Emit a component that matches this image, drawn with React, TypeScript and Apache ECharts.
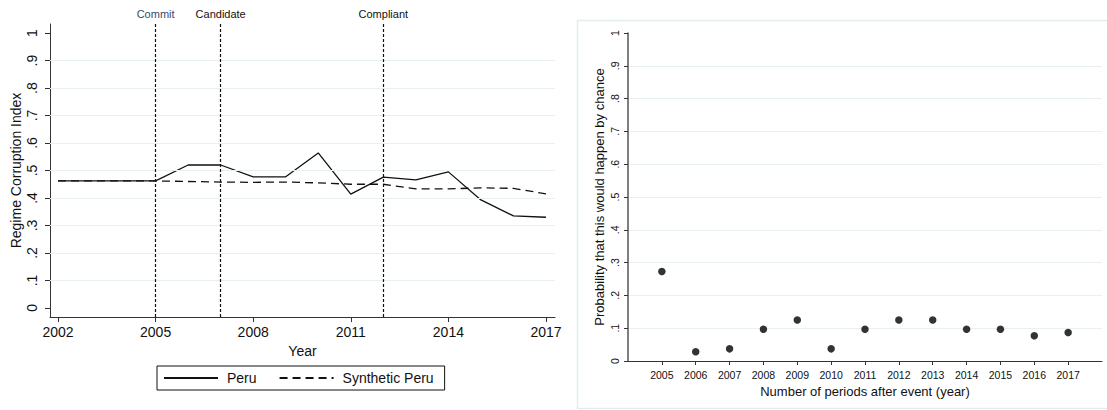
import React, { useEffect, useRef } from "react";
import * as echarts from "echarts";

// Left panel: Peru vs synthetic Peru, regime corruption index
const years = [2002, 2003, 2004, 2005, 2006, 2007, 2008, 2009, 2010, 2011, 2012, 2013, 2014, 2015, 2016, 2017];
const peru = [0.462, 0.462, 0.462, 0.462, 0.52, 0.52, 0.477, 0.477, 0.564, 0.414, 0.476, 0.466, 0.495, 0.393, 0.335, 0.33];
const syntheticPeru = [0.462, 0.462, 0.462, 0.462, 0.46, 0.458, 0.457, 0.458, 0.455, 0.45, 0.45, 0.433, 0.433, 0.437, 0.435, 0.415];
const yearTicks = [2002, 2005, 2008, 2011, 2014, 2017];
const indexTicks = [0, 0.1, 0.2, 0.3, 0.4, 0.5, 0.6, 0.7, 0.8, 0.9, 1];
const indexGrid = [0.1, 0.2, 0.3, 0.4, 0.5, 0.6, 0.7, 0.8, 0.9];

// EITI milestones
const eventYears = [2005, 2007, 2012];
const eventLabels = ["Commit", "Candidate", "Compliant"];
const eventColors = ["#3a4a6e", "#111111", "#111111"];

// Right panel: placebo probabilities by period
const periods = [2005, 2006, 2007, 2008, 2009, 2010, 2011, 2012, 2013, 2014, 2015, 2016, 2017];
const probabilities = [0.273, 0.028, 0.037, 0.097, 0.125, 0.037, 0.097, 0.125, 0.125, 0.097, 0.097, 0.077, 0.087];

const FONT = "Liberation Sans, Arial, Helvetica, sans-serif";
const GRID_COLOR = "#e8f0f1";

const fmtIndex = (v: number) => {
  if (v === 0) return "0";
  if (v === 1) return "1";
  return String(Math.round(v * 10) / 10).replace(/^0\./, ".");
};

export default function App() {
  const ref = useRef<HTMLDivElement>(null);

  useEffect(() => {
    if (!ref.current) return;
    const chart = echarts.init(ref.current, undefined, { renderer: "svg" });

    const option: any = {
      animation: false,
      backgroundColor: "#ffffff",
      textStyle: { fontFamily: FONT, color: "#111" },
      graphic: [
        {
          type: "rect",
          shape: { x: 577.5, y: 20.5, width: 540, height: 388 },
          style: { fill: "none", stroke: "#e4eded", lineWidth: 1.5 },
          silent: true,
        },
      ],
      legend: {
        left: 157,
        top: 366,
        data: ["Peru", "Synthetic Peru"],
        itemWidth: 54,
        itemHeight: 14,
        itemGap: 22,
        itemStyle: { opacity: 0 },
        borderColor: "#111",
        borderWidth: 1,
        borderRadius: 0,
        padding: [5, 11, 5, 6],
        textStyle: { fontFamily: FONT, fontSize: 14, color: "#111", padding: [0, 0, 0, 4] },
      },
      grid: [
        { left: 50, top: 24, width: 505, height: 293 },
        { left: 628, top: 33, width: 474, height: 328 },
      ],
      xAxis: [
        {
          gridIndex: 0,
          type: "value",
          min: 2001.754,
          max: 2017.277,
          name: "Year",
          nameLocation: "middle",
          nameGap: 24,
          nameTextStyle: { fontFamily: FONT, fontSize: 14, color: "#111" },
          axisLine: { onZero: false, lineStyle: { color: "#333", width: 1 } },
          axisTick: { customValues: yearTicks, length: 5, lineStyle: { color: "#333" } },
          axisLabel: {
            customValues: yearTicks,
            margin: 8,
            fontFamily: FONT,
            fontSize: 14,
            color: "#111",
            formatter: (v: number) => String(v),
          },
          splitLine: { show: false },
        },
        {
          gridIndex: 1,
          type: "value",
          min: 2004,
          max: 2018,
          name: "Number of periods after event (year)",
          nameLocation: "middle",
          nameGap: 20.5,
          nameTextStyle: { fontFamily: FONT, fontSize: 13, color: "#111" },
          axisLine: { onZero: false, lineStyle: { color: "#333", width: 1 } },
          axisTick: { customValues: periods, length: 4, lineStyle: { color: "#333" } },
          axisLabel: {
            customValues: periods,
            margin: 8,
            fontFamily: FONT,
            fontSize: 10.5,
            color: "#111",
            formatter: (v: number) => String(v),
          },
          splitLine: { show: false },
        },
      ],
      yAxis: [
        {
          gridIndex: 0,
          type: "value",
          min: -0.033,
          max: 1.033,
          name: "Regime Corruption Index",
          nameLocation: "middle",
          nameGap: 27,
          nameTextStyle: { fontFamily: FONT, fontSize: 14, color: "#111" },
          axisLine: { show: true, onZero: false, lineStyle: { color: "#333", width: 1 } },
          axisTick: { show: true, customValues: indexTicks, length: 5, lineStyle: { color: "#333" } },
          axisLabel: {
            customValues: indexTicks,
            rotate: 90,
            margin: 11,
            fontFamily: FONT,
            fontSize: 14,
            color: "#111",
            formatter: fmtIndex,
          },
          splitLine: { show: false },
        },
        {
          gridIndex: 1,
          type: "value",
          min: 0,
          max: 1,
          interval: 0.1,
          name: "Probability that this would happen by chance",
          nameLocation: "middle",
          nameGap: 22,
          nameTextStyle: { fontFamily: FONT, fontSize: 13, color: "#111" },
          axisLine: { show: true, lineStyle: { color: "#555", width: 1.5 } },
          axisTick: { show: true, length: 4, lineStyle: { color: "#333" } },
          axisLabel: {
            rotate: 90,
            margin: 8,
            fontFamily: FONT,
            fontSize: 10.5,
            color: "#111",
            formatter: fmtIndex,
          },
          splitLine: {
            show: true,
            showMinLine: false,
            showMaxLine: false,
            lineStyle: { color: GRID_COLOR, width: 1.2 },
          },
        },
      ],
      series: [
        {
          // light reference lines across the left panel
          name: "_grid",
          type: "line",
          xAxisIndex: 0,
          yAxisIndex: 0,
          data: [],
          silent: true,
          markLine: {
            silent: true,
            symbol: ["none", "none"],
            label: { show: false },
            lineStyle: { color: GRID_COLOR, width: 1.2, type: "solid" },
            data: indexGrid.map((v) => ({ yAxis: v })),
          },
        },
        {
          name: "Synthetic Peru",
          type: "line",
          xAxisIndex: 0,
          yAxisIndex: 0,
          data: years.map((y, i) => [y, syntheticPeru[i]]),
          showSymbol: false,
          symbol: "none",
          itemStyle: { color: "#111" },
          lineStyle: { color: "#111", width: 1.3, type: [8, 5] },
          z: 3,
        },
        {
          name: "Peru",
          type: "line",
          xAxisIndex: 0,
          yAxisIndex: 0,
          data: years.map((y, i) => [y, peru[i]]),
          showSymbol: false,
          symbol: "none",
          itemStyle: { color: "#111" },
          lineStyle: { color: "#111", width: 1.3, type: "solid" },
          z: 4,
          markLine: {
            silent: true,
            symbol: ["none", "none"],
            lineStyle: { color: "#111", width: 1.2, type: [3, 2] },
            data: eventYears.map((y, i) => ({
              xAxis: y,
              label: {
                show: true,
                position: "end",
                distance: 5,
                formatter: eventLabels[i],
                fontFamily: FONT,
                fontSize: 11,
                color: eventColors[i],
              },
            })),
          },
        },
        {
          name: "Probability",
          type: "scatter",
          xAxisIndex: 1,
          yAxisIndex: 1,
          data: periods.map((p, i) => [p, probabilities[i]]),
          symbol: "circle",
          symbolSize: 7.5,
          itemStyle: { color: "#000" },
        },
      ],
    };

    chart.setOption(option);
    return () => chart.dispose();
  }, []);

  return (
    <div
      ref={ref}
      style={{ position: "fixed", left: 0, top: 0, width: 1107, height: 410, background: "#fff" }}
    />
  );
}
